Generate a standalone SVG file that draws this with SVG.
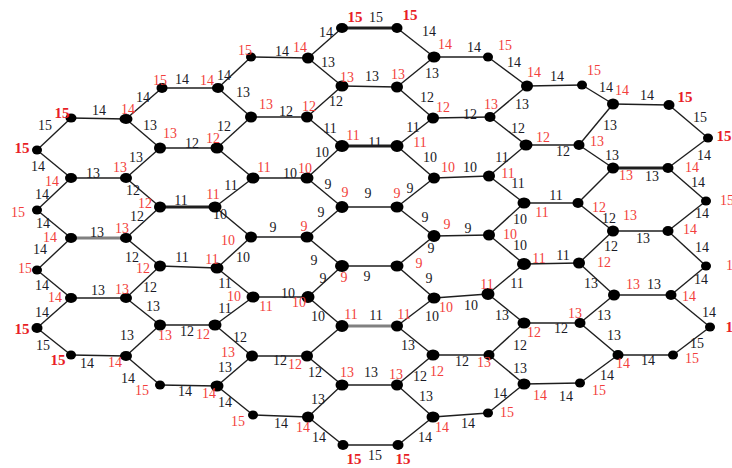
<svg xmlns="http://www.w3.org/2000/svg" width="732" height="468" viewBox="0 0 732 468">
<style>
.e line{stroke:#1e1e1e;stroke-width:1.4}
.e line.tk{stroke-width:2.8}
.e line.gr{stroke:#808080;stroke-width:3.2}
.n ellipse{fill:#000}
.n ellipse.s{fill:#000}
.r{fill:#f23f3c;font-size:14px;font-family:"Liberation Serif",serif;text-anchor:middle}
.rb{fill:#e81e26;font-size:15px;font-weight:bold;font-family:"Liberation Serif",serif;text-anchor:middle}
.b{fill:#1a1a26;font-size:14px;font-family:"Liberation Serif",serif;text-anchor:middle}
</style>
<rect width="732" height="468" fill="#fff"/>
<g id="connectors" class="e">
<line x1="71" y1="118" x2="126" y2="119"/>
<line x1="71" y1="178" x2="126" y2="178"/>
<line class="gr" x1="71" y1="238" x2="126" y2="238"/>
<line x1="71" y1="298" x2="126" y2="298"/>
<line x1="71" y1="355" x2="126" y2="356"/>
<line x1="162" y1="88" x2="218" y2="88"/>
<line x1="160" y1="148" x2="217" y2="148"/>
<line class="tk" x1="160" y1="207" x2="215" y2="207"/>
<line x1="160" y1="266" x2="217" y2="268"/>
<line x1="160" y1="325" x2="215" y2="325"/>
<line x1="160" y1="385" x2="217" y2="386"/>
<line x1="251" y1="57" x2="308" y2="58"/>
<line x1="251" y1="117" x2="307" y2="117"/>
<line x1="253" y1="178" x2="307" y2="178"/>
<line x1="251" y1="237" x2="307" y2="237"/>
<line x1="253" y1="297" x2="308" y2="297"/>
<line x1="252" y1="356" x2="307" y2="356"/>
<line x1="253" y1="415" x2="308" y2="417"/>
<line class="tk" x1="342" y1="28" x2="397" y2="28"/>
<line x1="342" y1="86" x2="397" y2="87"/>
<line class="tk" x1="342" y1="146" x2="397" y2="146"/>
<line x1="342" y1="207" x2="397" y2="207"/>
<line x1="342" y1="266" x2="397" y2="266"/>
<line class="gr" x1="342" y1="326" x2="397" y2="326"/>
<line x1="342" y1="385" x2="397" y2="385"/>
<line x1="343" y1="445" x2="398" y2="445"/>
<line x1="434" y1="57" x2="488" y2="57"/>
<line x1="433" y1="118" x2="490" y2="117"/>
<line x1="434" y1="178" x2="489" y2="176"/>
<line x1="434" y1="236" x2="489" y2="235"/>
<line x1="434" y1="298" x2="488" y2="294"/>
<line x1="433" y1="355" x2="489" y2="355"/>
<line x1="433" y1="417" x2="488" y2="413"/>
<line x1="527" y1="86" x2="582" y2="85"/>
<line x1="526" y1="145" x2="579" y2="145"/>
<line x1="524" y1="203" x2="578" y2="203"/>
<line x1="524" y1="264" x2="579" y2="263"/>
<line x1="524" y1="323" x2="580" y2="323"/>
<line x1="524" y1="384" x2="580" y2="383"/>
<line x1="613" y1="104" x2="669" y2="105"/>
<line class="tk" x1="613" y1="168" x2="668" y2="168"/>
<line x1="613" y1="231" x2="668" y2="231"/>
<line x1="614" y1="295" x2="671" y2="295"/>
<line x1="618" y1="355" x2="673" y2="355"/>
<line x1="37" y1="150" x2="71" y2="118"/>
<line x1="37" y1="150" x2="71" y2="178"/>
<line x1="37" y1="210" x2="71" y2="178"/>
<line x1="37" y1="210" x2="71" y2="238"/>
<line x1="37" y1="270" x2="71" y2="238"/>
<line x1="37" y1="270" x2="71" y2="298"/>
<line x1="37" y1="328" x2="71" y2="298"/>
<line x1="37" y1="328" x2="71" y2="355"/>
<line x1="126" y1="119" x2="162" y2="88"/>
<line x1="126" y1="119" x2="160" y2="148"/>
<line x1="126" y1="178" x2="160" y2="148"/>
<line x1="126" y1="178" x2="160" y2="207"/>
<line x1="126" y1="238" x2="160" y2="207"/>
<line x1="126" y1="238" x2="160" y2="266"/>
<line x1="126" y1="298" x2="160" y2="266"/>
<line x1="126" y1="298" x2="160" y2="325"/>
<line x1="126" y1="356" x2="160" y2="325"/>
<line x1="126" y1="356" x2="160" y2="385"/>
<line x1="218" y1="88" x2="251" y2="57"/>
<line x1="218" y1="88" x2="251" y2="117"/>
<line x1="217" y1="148" x2="251" y2="117"/>
<line x1="217" y1="148" x2="253" y2="178"/>
<line x1="215" y1="207" x2="253" y2="178"/>
<line x1="215" y1="207" x2="251" y2="237"/>
<line x1="217" y1="268" x2="251" y2="237"/>
<line x1="217" y1="268" x2="253" y2="297"/>
<line x1="215" y1="325" x2="253" y2="297"/>
<line x1="215" y1="325" x2="252" y2="356"/>
<line x1="217" y1="386" x2="252" y2="356"/>
<line x1="217" y1="386" x2="253" y2="415"/>
<line x1="308" y1="58" x2="342" y2="28"/>
<line x1="308" y1="58" x2="342" y2="86"/>
<line x1="307" y1="117" x2="342" y2="86"/>
<line x1="307" y1="117" x2="342" y2="146"/>
<line x1="307" y1="178" x2="342" y2="146"/>
<line x1="307" y1="178" x2="342" y2="207"/>
<line x1="307" y1="237" x2="342" y2="207"/>
<line x1="307" y1="237" x2="342" y2="266"/>
<line x1="308" y1="297" x2="342" y2="266"/>
<line x1="308" y1="297" x2="342" y2="326"/>
<line x1="307" y1="356" x2="342" y2="326"/>
<line x1="307" y1="356" x2="342" y2="385"/>
<line x1="308" y1="417" x2="342" y2="385"/>
<line x1="308" y1="417" x2="343" y2="445"/>
<line x1="397" y1="28" x2="434" y2="57"/>
<line x1="397" y1="87" x2="434" y2="57"/>
<line x1="397" y1="87" x2="433" y2="118"/>
<line x1="397" y1="146" x2="433" y2="118"/>
<line x1="397" y1="146" x2="434" y2="178"/>
<line x1="397" y1="207" x2="434" y2="178"/>
<line x1="397" y1="207" x2="434" y2="236"/>
<line x1="397" y1="266" x2="434" y2="236"/>
<line x1="397" y1="266" x2="434" y2="298"/>
<line x1="397" y1="326" x2="434" y2="298"/>
<line x1="397" y1="326" x2="433" y2="355"/>
<line x1="397" y1="385" x2="433" y2="355"/>
<line x1="397" y1="385" x2="433" y2="417"/>
<line x1="398" y1="445" x2="433" y2="417"/>
<line x1="488" y1="57" x2="527" y2="86"/>
<line x1="490" y1="117" x2="527" y2="86"/>
<line x1="490" y1="117" x2="526" y2="145"/>
<line x1="489" y1="176" x2="526" y2="145"/>
<line x1="489" y1="176" x2="524" y2="203"/>
<line x1="489" y1="235" x2="524" y2="203"/>
<line x1="489" y1="235" x2="524" y2="264"/>
<line x1="488" y1="294" x2="524" y2="264"/>
<line x1="488" y1="294" x2="524" y2="323"/>
<line x1="489" y1="355" x2="524" y2="323"/>
<line x1="489" y1="355" x2="524" y2="384"/>
<line x1="488" y1="413" x2="524" y2="384"/>
<line x1="582" y1="85" x2="613" y2="104"/>
<line x1="579" y1="145" x2="613" y2="104"/>
<line x1="579" y1="145" x2="613" y2="168"/>
<line x1="578" y1="203" x2="613" y2="168"/>
<line x1="578" y1="203" x2="613" y2="231"/>
<line x1="579" y1="263" x2="613" y2="231"/>
<line x1="579" y1="263" x2="614" y2="295"/>
<line x1="580" y1="323" x2="614" y2="295"/>
<line x1="580" y1="323" x2="618" y2="355"/>
<line x1="580" y1="383" x2="618" y2="355"/>
<line x1="669" y1="105" x2="708" y2="138"/>
<line x1="668" y1="168" x2="708" y2="138"/>
<line x1="668" y1="168" x2="706" y2="201"/>
<line x1="668" y1="231" x2="706" y2="201"/>
<line x1="668" y1="231" x2="706" y2="266"/>
<line x1="671" y1="295" x2="706" y2="266"/>
<line x1="671" y1="295" x2="710" y2="327"/>
<line x1="673" y1="355" x2="710" y2="327"/>
</g>
<g id="edge-labels">
<text class="b" x="376" y="22">15</text>
<text class="b" x="326" y="37">14</text>
<text class="b" x="429" y="36">14</text>
<text class="b" x="282" y="56">14</text>
<text class="b" x="474" y="52">14</text>
<text class="b" x="328" y="67">13</text>
<text class="b" x="432" y="78">13</text>
<text class="b" x="372" y="81">13</text>
<text class="b" x="514" y="67">14</text>
<text class="b" x="557" y="81">14</text>
<text class="b" x="606" y="92">14</text>
<text class="b" x="647" y="100">14</text>
<text class="b" x="700" y="122">15</text>
<text class="b" x="704" y="160">14</text>
<text class="b" x="652" y="181">13</text>
<text class="b" x="612" y="160">13</text>
<text class="b" x="610" y="130">13</text>
<text class="b" x="563" y="156">12</text>
<text class="b" x="518" y="133">12</text>
<text class="b" x="522" y="109">13</text>
<text class="b" x="470" y="119">12</text>
<text class="b" x="427" y="102">12</text>
<text class="b" x="413" y="132">11</text>
<text class="b" x="375" y="147">11</text>
<text class="b" x="330" y="133">11</text>
<text class="b" x="336" y="106">12</text>
<text class="b" x="286" y="116">12</text>
<text class="b" x="243" y="97">13</text>
<text class="b" x="224" y="80">14</text>
<text class="b" x="182" y="84">14</text>
<text class="b" x="143" y="102">14</text>
<text class="b" x="99" y="115">14</text>
<text class="b" x="45" y="130">15</text>
<text class="b" x="38" y="171">14</text>
<text class="b" x="93" y="178">13</text>
<text class="b" x="136" y="162">13</text>
<text class="b" x="150" y="130">13</text>
<text class="b" x="192" y="148">12</text>
<text class="b" x="224" y="131">12</text>
<text class="b" x="290" y="178">10</text>
<text class="b" x="322" y="157">10</text>
<text class="b" x="328" y="189">9</text>
<text class="b" x="368" y="198">9</text>
<text class="b" x="410" y="193">9</text>
<text class="b" x="430" y="162">10</text>
<text class="b" x="470" y="172">10</text>
<text class="b" x="502" y="162">11</text>
<text class="b" x="518" y="188">11</text>
<text class="b" x="556" y="200">11</text>
<text class="b" x="609" y="223">12</text>
<text class="b" x="643" y="243">13</text>
<text class="b" x="702" y="218">14</text>
<text class="b" x="698" y="187">14</text>
<text class="b" x="702" y="252">14</text>
<text class="b" x="701" y="284">14</text>
<text class="b" x="654" y="289">13</text>
<text class="b" x="591" y="288">13</text>
<text class="b" x="611" y="251">12</text>
<text class="b" x="563" y="260">11</text>
<text class="b" x="520" y="250">10</text>
<text class="b" x="520" y="224">10</text>
<text class="b" x="468" y="233">9</text>
<text class="b" x="425" y="222">9</text>
<text class="b" x="431" y="253">9</text>
<text class="b" x="367" y="281">9</text>
<text class="b" x="323" y="283">9</text>
<text class="b" x="314" y="265">9</text>
<text class="b" x="273" y="232">9</text>
<text class="b" x="321" y="217">9</text>
<text class="b" x="220" y="219">10</text>
<text class="b" x="243" y="262">10</text>
<text class="b" x="231" y="190">11</text>
<text class="b" x="181" y="205">11</text>
<text class="b" x="133" y="195">12</text>
<text class="b" x="137" y="221">12</text>
<text class="b" x="97" y="237">13</text>
<text class="b" x="42" y="199">14</text>
<text class="b" x="43" y="228">14</text>
<text class="b" x="40" y="254">14</text>
<text class="b" x="42" y="290">14</text>
<text class="b" x="98" y="295">13</text>
<text class="b" x="150" y="292">12</text>
<text class="b" x="132" y="262">12</text>
<text class="b" x="182" y="262">11</text>
<text class="b" x="225" y="288">11</text>
<text class="b" x="288" y="298">10</text>
<text class="b" x="318" y="321">10</text>
<text class="b" x="376" y="320">11</text>
<text class="b" x="432" y="321">10</text>
<text class="b" x="471" y="310">10</text>
<text class="b" x="517" y="288">11</text>
<text class="b" x="502" y="320">13</text>
<text class="b" x="429" y="283">9</text>
<text class="b" x="225" y="313">11</text>
<text class="b" x="187" y="336">12</text>
<text class="b" x="153" y="311">13</text>
<text class="b" x="127" y="340">13</text>
<text class="b" x="87" y="368">14</text>
<text class="b" x="43" y="350">15</text>
<text class="b" x="42" y="317">14</text>
<text class="b" x="128" y="383">14</text>
<text class="b" x="185" y="396">14</text>
<text class="b" x="225" y="407">14</text>
<text class="b" x="225" y="372">13</text>
<text class="b" x="240" y="342">12</text>
<text class="b" x="280" y="365">12</text>
<text class="b" x="315" y="377">12</text>
<text class="b" x="371" y="377">13</text>
<text class="b" x="420" y="381">12</text>
<text class="b" x="408" y="350">13</text>
<text class="b" x="462" y="366">12</text>
<text class="b" x="520" y="350">12</text>
<text class="b" x="561" y="333">12</text>
<text class="b" x="604" y="320">13</text>
<text class="b" x="614" y="340">13</text>
<text class="b" x="648" y="365">14</text>
<text class="b" x="697" y="348">15</text>
<text class="b" x="709" y="317">14</text>
<text class="b" x="607" y="380">14</text>
<text class="b" x="566" y="401">14</text>
<text class="b" x="500" y="398">14</text>
<text class="b" x="520" y="373">13</text>
<text class="b" x="468" y="428">14</text>
<text class="b" x="426" y="401">13</text>
<text class="b" x="425" y="442">14</text>
<text class="b" x="375" y="460">15</text>
<text class="b" x="319" y="442">14</text>
<text class="b" x="281" y="428">14</text>
<text class="b" x="318" y="404">13</text>
</g>
<g id="nodes" class="n">
<g id="n-A150"><ellipse class="s" cx="37" cy="150" rx="5" ry="4.5"/><text class="rb" x="22" y="153">15</text></g>
<g id="n-A210"><ellipse class="s" cx="37" cy="210" rx="5" ry="4.5"/><text class="r" x="18" y="217">15</text></g>
<g id="n-A270"><ellipse class="s" cx="37" cy="270" rx="5" ry="4.5"/><text class="r" x="25" y="273">15</text></g>
<g id="n-A328"><ellipse class="s" cx="37" cy="328" rx="5.5" ry="5"/><text class="rb" x="22" y="334">15</text></g>
<g id="n-B118"><ellipse class="s" cx="71" cy="118" rx="5.5" ry="4.5"/><text class="rb" x="62" y="118">15</text></g>
<g id="n-B178"><ellipse cx="71" cy="178" rx="6" ry="5"/><text class="r" x="52" y="186">14</text></g>
<g id="n-B238"><ellipse cx="71" cy="238" rx="6" ry="5"/><text class="r" x="50" y="242">14</text></g>
<g id="n-B298"><ellipse cx="71" cy="298" rx="6" ry="5"/><text class="r" x="55" y="302">14</text></g>
<g id="n-B356"><ellipse class="s" cx="71" cy="355" rx="5" ry="4.5"/><text class="rb" x="58" y="365">15</text></g>
<g id="n-C119"><ellipse cx="126" cy="119" rx="6.5" ry="5"/><text class="r" x="128" y="114">14</text></g>
<g id="n-C178"><ellipse cx="126" cy="178" rx="6" ry="5"/><text class="r" x="120" y="172">13</text></g>
<g id="n-C238"><ellipse cx="126" cy="238" rx="6" ry="5"/><text class="r" x="122" y="233">13</text></g>
<g id="n-C298"><ellipse cx="126" cy="298" rx="6" ry="5"/><text class="r" x="122" y="294">13</text></g>
<g id="n-C356"><ellipse cx="126" cy="356" rx="6" ry="5"/><text class="r" x="115" y="367">14</text></g>
<g id="n-D88"><ellipse class="s" cx="162" cy="88" rx="5.5" ry="5"/><text class="r" x="160" y="85">15</text></g>
<g id="n-D148"><ellipse cx="160" cy="148" rx="6" ry="5.5"/><text class="r" x="170" y="138">13</text></g>
<g id="n-D207"><ellipse cx="160" cy="207" rx="6" ry="5.5"/><text class="r" x="145" y="208">12</text></g>
<g id="n-D266"><ellipse cx="160" cy="266" rx="6" ry="5.5"/><text class="r" x="143" y="273">12</text></g>
<g id="n-D325"><ellipse cx="160" cy="325" rx="6" ry="5.5"/><text class="r" x="165" y="340">13</text></g>
<g id="n-D385"><ellipse class="s" cx="160" cy="385" rx="5" ry="4.5"/><text class="r" x="142" y="395">15</text></g>
<g id="n-E88"><ellipse cx="218" cy="88" rx="6" ry="5"/><text class="r" x="207" y="85">14</text></g>
<g id="n-E148"><ellipse cx="217" cy="148" rx="6.5" ry="5.5"/><text class="r" x="213" y="143">12</text></g>
<g id="n-E207"><ellipse cx="215" cy="207" rx="6.5" ry="5.5"/><text class="r" x="213" y="199">11</text></g>
<g id="n-E268"><ellipse cx="217" cy="268" rx="6.5" ry="5.5"/><text class="r" x="212" y="264">11</text></g>
<g id="n-E325"><ellipse cx="215" cy="325" rx="6.5" ry="5.5"/><text class="r" x="203" y="339">12</text></g>
<g id="n-E386"><ellipse cx="217" cy="386" rx="6.5" ry="5.5"/><text class="r" x="209" y="398">14</text></g>
<g id="n-F57"><ellipse class="s" cx="251" cy="57" rx="5" ry="4.5"/><text class="r" x="245" y="55">15</text></g>
<g id="n-F117"><ellipse cx="251" cy="117" rx="6" ry="5.5"/><text class="r" x="266" y="109">13</text></g>
<g id="n-F178"><ellipse cx="253" cy="178" rx="6.5" ry="5.5"/><text class="r" x="264" y="172">11</text></g>
<g id="n-F237"><ellipse cx="251" cy="237" rx="6" ry="5.5"/><text class="r" x="228" y="245">10</text></g>
<g id="n-F296"><ellipse cx="253" cy="297" rx="6.5" ry="5.5"/><text class="r" x="234" y="301">10</text><text class="r" x="266" y="311">11</text></g>
<g id="n-F356"><ellipse cx="252" cy="356" rx="6" ry="5.5"/><text class="r" x="228" y="357">13</text></g>
<g id="n-F415"><ellipse class="s" cx="253" cy="415" rx="5" ry="4.5"/><text class="r" x="238" y="426">15</text></g>
<g id="n-G57"><ellipse cx="308" cy="58" rx="6" ry="5.5"/><text class="r" x="300" y="52">14</text></g>
<g id="n-G117"><ellipse cx="307" cy="117" rx="6" ry="5.5"/><text class="r" x="309" y="111">12</text></g>
<g id="n-G178"><ellipse cx="307" cy="178" rx="6.5" ry="5.5"/><text class="r" x="305" y="173">10</text></g>
<g id="n-G237"><ellipse cx="307" cy="237" rx="6.5" ry="5.5"/><text class="r" x="304" y="231">9</text></g>
<g id="n-G296"><ellipse cx="308" cy="297" rx="6.5" ry="6"/><text class="r" x="299" y="307">10</text></g>
<g id="n-G356"><ellipse cx="307" cy="356" rx="6" ry="5.5"/><text class="r" x="295" y="369">12</text></g>
<g id="n-G417"><ellipse cx="308" cy="417" rx="6" ry="5.5"/><text class="r" x="303" y="432">14</text></g>
<g id="n-H28"><ellipse class="s" cx="342" cy="28" rx="6" ry="5"/><text class="rb" x="355" y="22">15</text></g>
<g id="n-H86"><ellipse cx="342" cy="86" rx="6.5" ry="5.5"/><text class="r" x="347" y="82">13</text></g>
<g id="n-H146"><ellipse cx="342" cy="146" rx="7" ry="6"/><text class="r" x="353" y="140">11</text></g>
<g id="n-H207"><ellipse cx="342" cy="207" rx="6.5" ry="6"/><text class="r" x="345" y="197">9</text></g>
<g id="n-H266"><ellipse cx="342" cy="266" rx="7" ry="6"/><text class="r" x="344" y="282">9</text></g>
<g id="n-H326"><ellipse cx="342" cy="326" rx="6.5" ry="6"/><text class="r" x="351" y="319">11</text></g>
<g id="n-H385"><ellipse cx="342" cy="385" rx="6.5" ry="5.5"/><text class="r" x="347" y="377">13</text></g>
<g id="n-H445"><ellipse class="s" cx="343" cy="445" rx="5.5" ry="5"/><text class="rb" x="354" y="464">15</text></g>
<g id="n-I28"><ellipse class="s" cx="397" cy="28" rx="5.5" ry="5"/><text class="rb" x="410" y="20">15</text></g>
<g id="n-I86"><ellipse cx="397" cy="87" rx="6" ry="5.5"/><text class="r" x="398" y="79">13</text></g>
<g id="n-I146"><ellipse cx="397" cy="146" rx="6.5" ry="6"/><text class="r" x="420" y="147">11</text></g>
<g id="n-I207"><ellipse cx="397" cy="207" rx="6.5" ry="5.5"/><text class="r" x="397" y="198">9</text></g>
<g id="n-I266"><ellipse cx="397" cy="266" rx="6.5" ry="5.5"/><text class="r" x="419" y="268">9</text></g>
<g id="n-I326"><ellipse cx="397" cy="326" rx="6" ry="5.5"/><text class="r" x="404" y="319">11</text></g>
<g id="n-I385"><ellipse cx="397" cy="385" rx="6" ry="5.5"/><text class="r" x="396" y="379">13</text></g>
<g id="n-I445"><ellipse class="s" cx="398" cy="445" rx="5.5" ry="5"/><text class="rb" x="403" y="464">15</text></g>
<g id="n-J57"><ellipse cx="434" cy="57" rx="6.5" ry="5.5"/><text class="r" x="445" y="49">14</text></g>
<g id="n-J117"><ellipse cx="433" cy="118" rx="6" ry="5.5"/><text class="r" x="443" y="112">12</text></g>
<g id="n-J178"><ellipse cx="434" cy="178" rx="6" ry="5.5"/><text class="r" x="448" y="172">10</text></g>
<g id="n-J236"><ellipse cx="434" cy="236" rx="6.5" ry="6"/><text class="r" x="447" y="229">9</text></g>
<g id="n-J298"><ellipse cx="434" cy="298" rx="6.5" ry="5.5"/><text class="r" x="446" y="312">10</text></g>
<g id="n-J355"><ellipse cx="433" cy="355" rx="6.5" ry="5.5"/><text class="r" x="437" y="376">12</text></g>
<g id="n-J417"><ellipse cx="433" cy="417" rx="6.5" ry="5.5"/><text class="r" x="442" y="432">14</text></g>
<g id="n-K57"><ellipse class="s" cx="488" cy="57" rx="5" ry="4.5"/><text class="r" x="505" y="50">15</text></g>
<g id="n-K117"><ellipse cx="490" cy="117" rx="5.5" ry="5"/><text class="r" x="491" y="109">13</text></g>
<g id="n-K176"><ellipse cx="489" cy="176" rx="6" ry="5.5"/><text class="r" x="508" y="178">11</text></g>
<g id="n-K235"><ellipse cx="489" cy="235" rx="6" ry="5.5"/><text class="r" x="510" y="239">10</text></g>
<g id="n-K295"><ellipse cx="488" cy="294" rx="6.5" ry="6"/><text class="r" x="487" y="289">11</text></g>
<g id="n-K355"><ellipse cx="489" cy="355" rx="5.5" ry="5"/><text class="r" x="484" y="367">13</text></g>
<g id="n-K413"><ellipse class="s" cx="488" cy="413" rx="5" ry="4.5"/><text class="r" x="507" y="417">15</text></g>
<g id="n-L86"><ellipse cx="527" cy="86" rx="6" ry="5.5"/><text class="r" x="534" y="77">14</text></g>
<g id="n-L144"><ellipse cx="526" cy="145" rx="6.5" ry="5.5"/><text class="r" x="543" y="142">12</text></g>
<g id="n-L203"><ellipse cx="524" cy="203" rx="6.5" ry="5.5"/><text class="r" x="542" y="217">11</text></g>
<g id="n-L264"><ellipse cx="524" cy="264" rx="7" ry="6"/><text class="r" x="539" y="263">11</text></g>
<g id="n-L323"><ellipse cx="524" cy="323" rx="6.5" ry="5.5"/><text class="r" x="534" y="337">12</text></g>
<g id="n-L384"><ellipse cx="524" cy="384" rx="6.5" ry="5.5"/><text class="r" x="540" y="400">14</text></g>
<g id="n-M85"><ellipse class="s" cx="582" cy="85" rx="5" ry="4.5"/><text class="r" x="594" y="75">15</text></g>
<g id="n-M145"><ellipse cx="579" cy="145" rx="5.5" ry="5"/><text class="r" x="597" y="146">13</text></g>
<g id="n-M203"><ellipse cx="578" cy="203" rx="5.5" ry="5"/><text class="r" x="599" y="212">12</text></g>
<g id="n-M263"><ellipse cx="579" cy="263" rx="6" ry="5.5"/><text class="r" x="604" y="267">12</text></g>
<g id="n-M323"><ellipse cx="580" cy="323" rx="5.5" ry="5"/><text class="r" x="575" y="318">13</text></g>
<g id="n-M383"><ellipse class="s" cx="580" cy="383" rx="5" ry="4.5"/><text class="r" x="599" y="395">15</text></g>
<g id="n-N104"><ellipse cx="613" cy="104" rx="6" ry="5.5"/><text class="r" x="622" y="95">14</text></g>
<g id="n-N167"><ellipse cx="613" cy="168" rx="6" ry="5.5"/><text class="r" x="626" y="180">13</text></g>
<g id="n-N231"><ellipse cx="613" cy="231" rx="6" ry="5.5"/><text class="r" x="630" y="220">13</text></g>
<g id="n-N295"><ellipse cx="614" cy="295" rx="6" ry="5.5"/><text class="r" x="633" y="289">13</text></g>
<g id="n-N355"><ellipse cx="618" cy="355" rx="5.5" ry="5"/><text class="r" x="623" y="368">14</text></g>
<g id="n-O105"><ellipse class="s" cx="669" cy="105" rx="5.5" ry="5"/><text class="rb" x="685" y="102">15</text></g>
<g id="n-O167"><ellipse cx="668" cy="168" rx="5.5" ry="5"/><text class="r" x="692" y="172">14</text></g>
<g id="n-O231"><ellipse cx="668" cy="231" rx="5.5" ry="5"/><text class="r" x="690" y="234">14</text></g>
<g id="n-O295"><ellipse cx="671" cy="295" rx="5.5" ry="5"/><text class="r" x="689" y="301">14</text></g>
<g id="n-O355"><ellipse class="s" cx="673" cy="355" rx="5" ry="4.5"/><text class="r" x="692" y="363">15</text></g>
<g id="n-P138"><ellipse class="s" cx="708" cy="138" rx="5" ry="4.5"/><text class="rb" x="724" y="141">15</text></g>
<g id="n-P201"><ellipse class="s" cx="706" cy="201" rx="5" ry="4.5"/><text class="r" x="727" y="205">15</text></g>
<g id="n-P266"><ellipse class="s" cx="706" cy="266" rx="5" ry="4.5"/><text class="r" x="733" y="270">15</text></g>
<g id="n-P327"><ellipse class="s" cx="710" cy="327" rx="5" ry="4.5"/><text class="rb" x="733" y="332">15</text></g>
</g>
</svg>
